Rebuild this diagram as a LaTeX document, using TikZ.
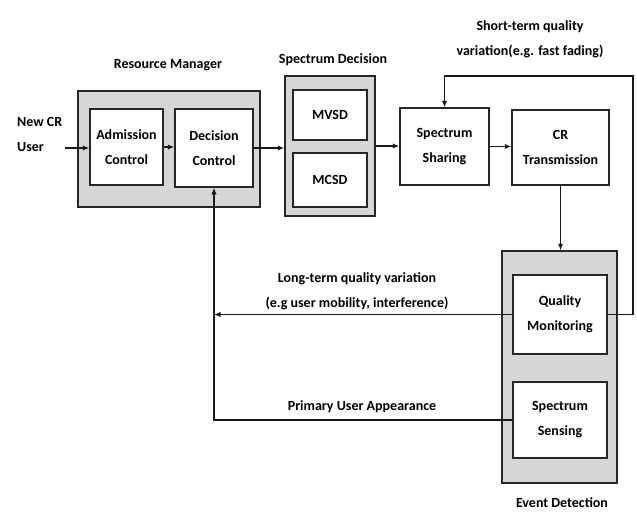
\documentclass[tikz,border=0pt]{standalone}
\usepackage{fontspec}
\setmainfont{Carlito}
\usetikzlibrary{arrows.meta}
\begin{document}
\begin{tikzpicture}[x=1pt,y=-1pt,
  txt/.style={font=\bfseries\fontsize{14}{25}\selectfont, align=center, inner sep=0pt},
  outerbox/.style={draw=black!85, fill=black!16, line width=1.5pt, inner sep=0pt},
  innerbox/.style={draw=black!85, fill=white, line width=1.5pt, inner sep=0pt, txt},
  arr/.style={-{Latex[length=6.5pt,width=5.5pt]}, line width=1.2pt, black!90}]
\useasboundingbox (0,0) rectangle (637,519);
% outer grey boxes
\node[outerbox, minimum width=182, minimum height=116] (rm) at (169,149) {};
\node[outerbox, minimum width=90, minimum height=140] (sd) at (330,146) {};
\node[outerbox, minimum width=115, minimum height=232] (ed) at (559.5,367) {};
% inner boxes
\node[innerbox, minimum width=73, minimum height=76] (adm) at (126.5,147) {Admission\\Control};
\node[innerbox, minimum width=78, minimum height=78] (dec) at (214,148) {Decision\\Control};
\node[innerbox, minimum width=74, minimum height=50] (mvsd) at (330,115) {MVSD};
\node[innerbox, minimum width=74, minimum height=54] (mcsd) at (330,180) {MCSD};
\node[innerbox, minimum width=89, minimum height=77] (ss) at (444.5,146.5) {Spectrum\\Sharing};
\node[innerbox, minimum width=97, minimum height=75] (crt) at (560.5,147.5) {CR\\Transmission};
\node[innerbox, minimum width=94, minimum height=79] (qm) at (560,314.5) {Quality\\Monitoring};
\node[innerbox, minimum width=94, minimum height=76] (sen) at (560,420) {Spectrum\\Sensing};
% labels
\node[txt, align=left, anchor=west] (newcr) at (17,134) {New CR\\User};
\node[txt] (lrm) at (168,65) {Resource Manager};
\node[txt] (lsd) at (333,60) {Spectrum Decision};
\node[txt] (led) at (562,503) {Event Detection};
\node[txt] (lst) at (530,39) {Short-term quality\\variation(e.g. fast fading)};
\node[txt] (llt) at (357,291) {Long-term quality variation\\(e.g user mobility, interference)};
\node[txt] (lpu) at (362,407) {Primary User Appearance};
% connectors
\coordinate (start) at (65,148);
\coordinate (fbr) at (633,76);
\draw[arr] (start) -- (start -| adm.west);
\draw[arr] (adm.east) -- (adm.east -| dec.west);
\draw[arr] (dec.east) -- (dec.east -| sd.west);
\draw[arr] (sd.east) -- (sd.east -| ss.west);
\draw[arr] (ss.east) -- (ss.east -| crt.west);
\draw[arr] (crt.south) -- (crt.south |- ed.north);
\draw[arr] (qm.east) -| (fbr) -| (ss.north);
\draw[arr] (qm.west) -- (qm.west -| dec.south);
\draw[arr] (sen.west) -| (dec.south);
\end{tikzpicture}
\end{document}
